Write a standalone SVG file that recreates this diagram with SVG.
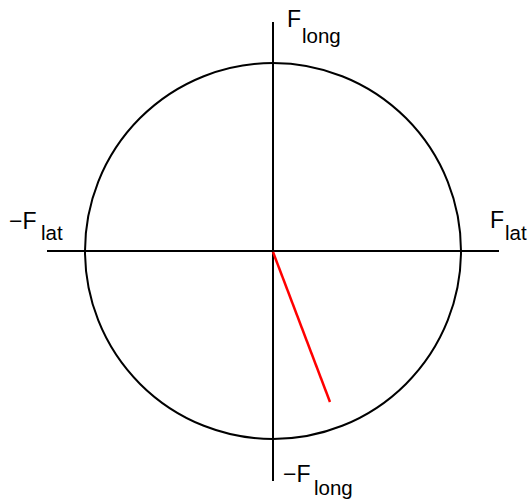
<svg xmlns="http://www.w3.org/2000/svg" width="528" height="499" viewBox="0 0 528 499">
<style>
.ax{stroke:#000;stroke-width:2;fill:none}
.t{font-family:"Liberation Sans",Arial,sans-serif;font-size:23px;fill:#000}
.s{font-family:"Liberation Sans",Arial,sans-serif;font-size:20.5px;fill:#000}
</style>
<rect width="528" height="499" fill="#fff"/>
<g id="circle"><circle class="ax" cx="273" cy="251" r="188"/></g>
<g id="connectors">
<line class="ax" x1="273" y1="22" x2="273" y2="481"/>
<line class="ax" x1="47" y1="251" x2="499" y2="251"/>
<line x1="273" y1="252" x2="330" y2="402" stroke="#f00" stroke-width="2.5"/>
</g>
<g id="label-top"><text class="t" x="287" y="27">F</text><text class="s" x="302" y="43">long</text></g>
<g id="label-left"><text class="t" x="9" y="229">−F</text><text class="s" x="41" y="240">lat</text></g>
<g id="label-right"><text class="t" x="490" y="228">F</text><text class="s" x="505" y="240">lat</text></g>
<g id="label-bottom"><text class="t" x="283" y="482">−F</text><text class="s" x="314" y="495">long</text></g>
</svg>
